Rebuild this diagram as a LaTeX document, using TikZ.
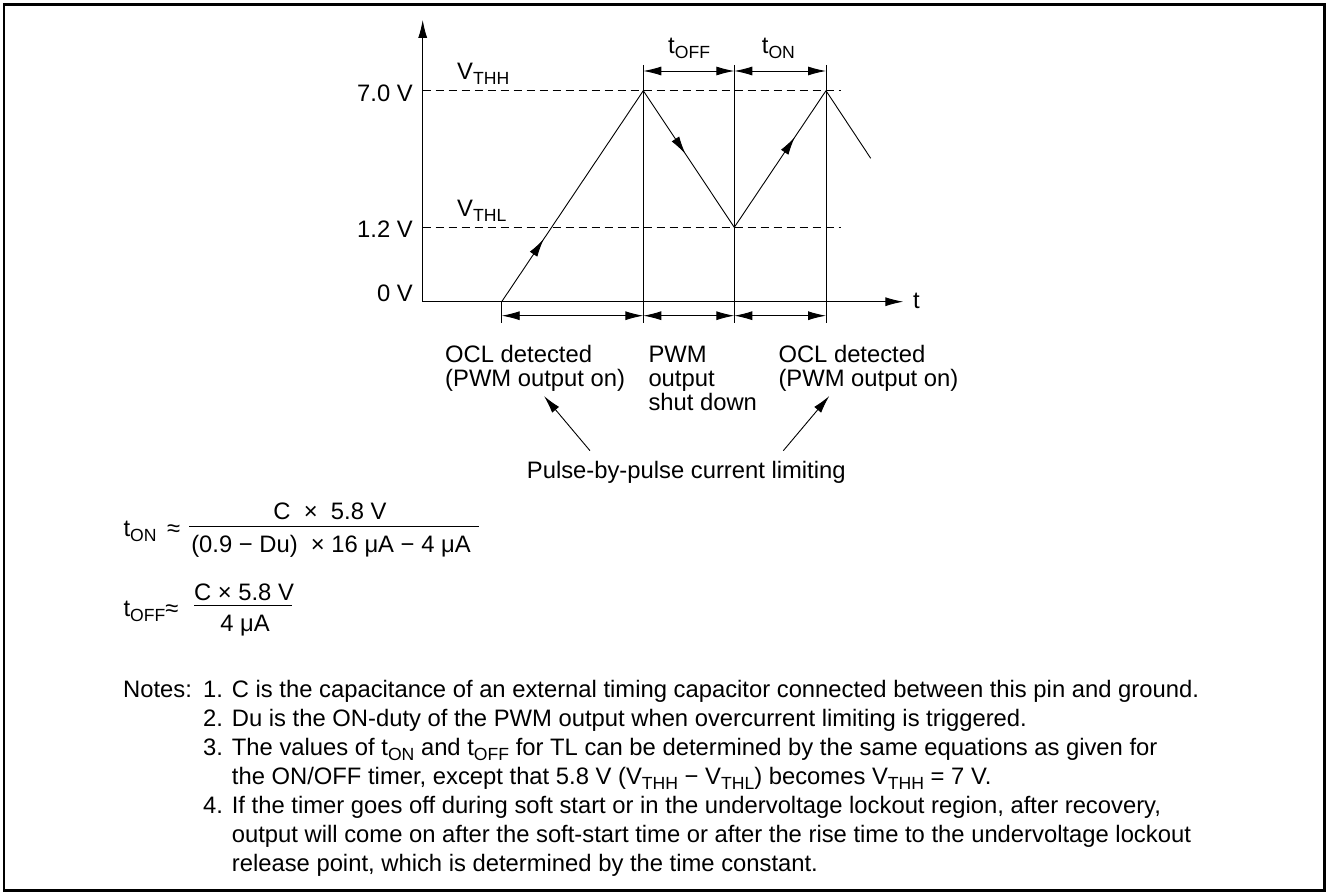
\documentclass[tikz,border=0pt]{standalone}
\usepackage{fontspec}
\setmainfont{Liberation Sans}
\usetikzlibrary{arrows.meta, decorations.markings, calc}
\newcommand\subtxt[1]{\raisebox{-5pt}{\fontsize{17.6}{17.6}\selectfont #1}}
\tikzset{
  >={Latex[length=18pt, width=9pt]},
  txt/.style={font=\fontsize{23.8}{24}\selectfont, inner sep=0pt, align=left},
  notetxt/.style={font=\fontsize{23.8}{29}\selectfont, inner sep=0pt, align=left},
  wave/.style={line width=0.9pt},
  guide/.style={line width=0.9pt},
  thrline/.style={line width=0.7pt, dash pattern=on 8pt off 5pt},
  dimline/.style={<->, line width=0.9pt},
  midarrow/.style={postaction={decorate}, decoration={markings,
    mark=at position #1 with {\arrow{Latex[length=18pt, width=9pt]}}}},
  boxframe/.style={line width=2.6pt},
}

\begin{document}
\begin{tikzpicture}[x=1pt, y=-1pt]
  \useasboundingbox (0,0) rectangle (1326,893);
  \draw[boxframe] (4,4.7) rectangle (1324.6,890.5);

  % ---- Points --------------------------------------------------------------
  \coordinate (o)     at (422.7,301.7);
  \coordinate (ytip)  at (422.7,20);
  \coordinate (xtip)  at (903.3,301.7);
  \coordinate (start) at (501.7,301.7);
  \coordinate (pk1)   at (643.3,90.7);
  \coordinate (vl)    at (734.3,227.3);
  \coordinate (pk2)   at (826,90.7);
  \coordinate (tail)  at (870.7,158.3);

  % ---- Axes and thresholds ---------------------------------------------------
  \draw[guide, ->] (o) -- (ytip);
  \draw[guide, ->] (o) -- (xtip);
  \draw[thrline] (422.7,90.7) -- (840.7,90.7);
  \draw[thrline] (422.7,227.3) -- (840.7,227.3);

  \node[txt, anchor=base east] (v7)  at (413,101.7) {7.0 V};
  \node[txt, anchor=base east] (v12) at (413,237.3) {1.2 V};
  \node[txt, anchor=base east] (v0)  at (413,301.7) {0 V};
  \node[txt, anchor=base west] (taxis) at (913,308.3) {t};
  \node[txt, anchor=base west] (vthh) at (457,80) {V\subtxt{THH}};
  \node[txt, anchor=base west] (vthl) at (457,216.7) {V\subtxt{THL}};

  % ---- Waveform --------------------------------------------------------------
  \draw[wave, midarrow=0.296] (start) -- (pk1);
  \draw[wave, midarrow=0.463] (pk1) -- (vl);
  \draw[wave, midarrow=0.659] (vl) -- (pk2);
  \draw[wave] (pk2) -- (tail);

  % ---- Time marks ------------------------------------------------------------
  \draw[guide] (start) -- (501.7,322.7);
  \draw[guide] (643.3,65) -- (643.3,322.7);
  \draw[guide] (734.3,65) -- (734.3,322.7);
  \draw[guide] (826,65) -- (826,322.7);

  \draw[dimline] (643.3,71) -- (734.3,71);
  \draw[dimline] (734.3,71) -- (826,71);
  \node[txt, anchor=base west] (toff) at (668,54) {t\subtxt{OFF}};
  \node[txt, anchor=base west] (ton)  at (761.7,54) {t\subtxt{ON}};

  \draw[dimline] (501.7,315.7) -- (643.3,315.7);
  \draw[dimline] (643.3,315.7) -- (734.3,315.7);
  \draw[dimline] (734.3,315.7) -- (826,315.7);

  % ---- Phase labels (anchored on the last line) ------------------------------
  \node[txt, anchor=base west] (ocl1) at (445,386.7) {OCL detected\\(PWM output on)};
  \node[txt, anchor=base west] (pwm)  at (648.3,410.7) {PWM\\output\\shut down};
  \node[txt, anchor=base west] (ocl2) at (778.3,386.7) {OCL detected\\(PWM output on)};
  \node[txt, anchor=base west] (pulse) at (526.7,478) {Pulse-by-pulse current limiting};

  \coordinate (pl) at (590,450.7);
  \coordinate (pr) at (783.3,450.7);
  \coordinate (tl) at (544,396);
  \coordinate (tr) at (829.3,396);
  \draw[guide, ->] (pl) -- (tl);
  \draw[guide, ->] (pr) -- (tr);

  % ---- Equations -------------------------------------------------------------
  \node[txt, anchor=base west] (tonlhs) at (123.3,536.7) {t\subtxt{ON} \,≈};
  \node[txt, anchor=base] (tonnum) at (330,519) {C \;×\; 5.8 V};
  \node[txt, anchor=base] (tonden) at (331,552.7) {(0.9 − Du) \;× 16 μA − 4 μA};
  \draw[guide] (189,526) -- (479.3,526);

  \node[txt, anchor=base west] (tofflhs) at (123.3,616.7) {t\subtxt{OFF}≈};
  \node[txt, anchor=base] (toffnum) at (244,600) {C × 5.8 V};
  \node[txt, anchor=base] (toffden) at (245,631.7) {4 μA};
  \draw[guide] (194,605) -- (291.7,605);

  % ---- Notes -----------------------------------------------------------------
  \node[notetxt, anchor=base west] (notes) at (123,697) {Notes:};
  \node[notetxt, anchor=base west] (items) at (203,871) {%
    \makebox[28.7pt][l]{1.}C is the capacitance of an external timing capacitor connected between this pin and ground.\\
    \makebox[28.7pt][l]{2.}Du is the ON-duty of the PWM output when overcurrent limiting is triggered.\\
    \makebox[28.7pt][l]{3.}The values of t\subtxt{ON} and t\subtxt{OFF} for TL can be determined by the same equations as given for\\
    \hspace*{28.7pt}the ON/OFF timer, except that 5.8 V (V\subtxt{THH} − V\subtxt{THL}) becomes V\subtxt{THH} = 7 V.\\
    \makebox[28.7pt][l]{4.}If the timer goes off during soft start or in the undervoltage lockout region, after recovery,\\
    \hspace*{28.7pt}output will come on after the soft-start time or after the rise time to the undervoltage lockout\\
    \hspace*{28.7pt}release point, which is determined by the time constant.};
\end{tikzpicture}
\end{document}
